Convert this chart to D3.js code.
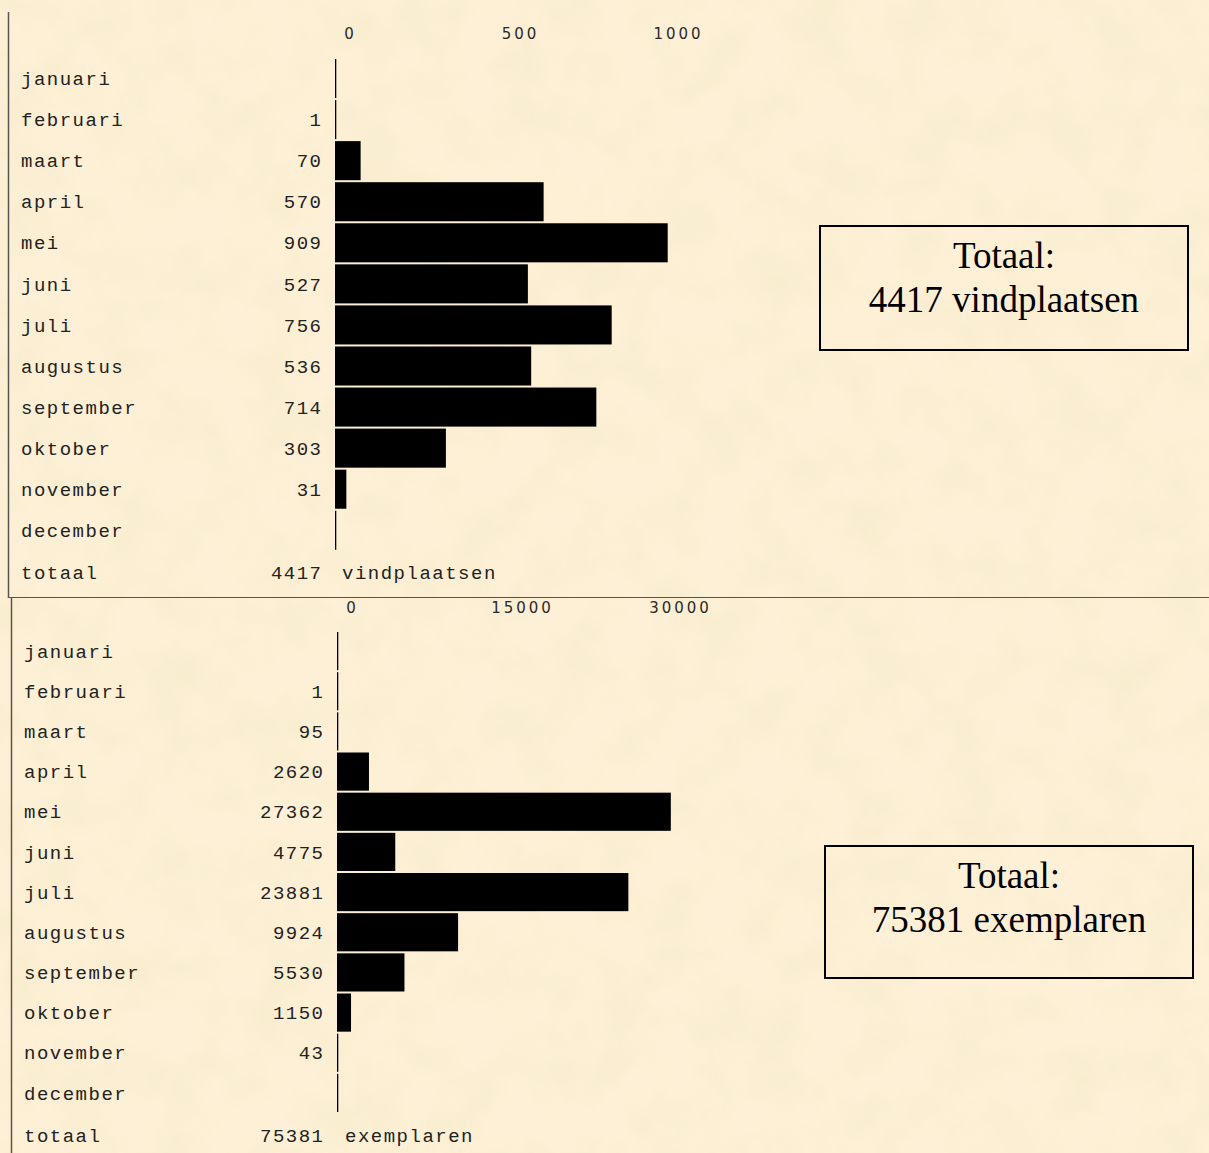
<!DOCTYPE html>
<html>
<head>
<meta charset="utf-8">
<script src="https://cdn.jsdelivr.net/npm/d3@7"></script>
<style>
  html, body { margin: 0; padding: 0; background: #fcefd3; overflow: hidden; }
  svg { display: block; }
</style>
</head>
<body>
<svg id="chart" width="1209" height="1153"></svg>
<script>
// data
var months = ["januari", "februari", "maart", "april", "mei", "juni", "juli",
  "augustus", "september", "oktober", "november", "december"]
var vindplaatsen = [0, 1, 70, 570, 909, 527, 756, 536, 714, 303, 31, 0]
var exemplaren = [0, 1, 95, 2620, 27362, 4775, 23881, 9924, 5530, 1150, 43, 0]
var ticksVind = [0, 500, 1000]
var ticksExem = [0, 15000, 30000]

var svg = d3.select("#chart")
var W = 1209, H = 1153

// parchment background
var defs = svg.append("defs")
var f = defs.append("filter").attr("id", "paper")
  .attr("x", 0).attr("y", 0).attr("width", "100%").attr("height", "100%")
f.append("feTurbulence").attr("type", "fractalNoise")
  .attr("baseFrequency", "0.02").attr("numOctaves", 4).attr("seed", 7)
f.append("feColorMatrix").attr("type", "matrix")
  .attr("values", "0 0 0 0 0.93  0 0 0 0 0.83  0 0 0 0 0.6  1.3 0 0 0 -0.46")
f.append("feComposite").attr("in2", "SourceGraphic").attr("operator", "in")

svg.append("rect").attr("width", W).attr("height", H).attr("fill", "#fdf0d6")
svg.append("rect").attr("width", W).attr("height", H).attr("fill", "#fff").attr("filter", "url(#paper)")

// frame lines
var frame = svg.append("g").attr("stroke", "#555").attr("fill", "none")
frame.append("line").attr("x1", 8.5).attr("x2", 8.5).attr("y1", 12).attr("y2", 598).attr("stroke-width", 1.5)
frame.append("line").attr("x1", 9).attr("x2", W).attr("y1", 597.5).attr("y2", 597.5)
frame.append("line").attr("x1", 11.5).attr("x2", 11.5).attr("y1", 598).attr("y2", H).attr("stroke-width", 1.5)

var monoLS = 1.5

function panel(cfg) {
  var g = svg.append("g")
  var values = cfg.values
  var total = d3.sum(values)

  var x = d3.scaleLinear()
    .domain([0, d3.max(cfg.ticks)])
    .range([cfg.x0, cfg.x0 + 366])

  var y = d3.scaleBand()
    .domain(months)
    .range([cfg.top, cfg.top + months.length * cfg.step])
    .paddingInner(cfg.gap / cfg.step)
    .paddingOuter(0)

  // tick labels sit in table cells, not exactly on the scale
  var tx = d3.scalePoint()
    .domain(cfg.ticks)
    .range([cfg.x0 + 14, cfg.x0 + 342])

  g.selectAll(".tick")
    .data(cfg.ticks)
    .enter().append("text")
      .attr("class", "tick")
      .attr("x", (d, i) => tx(d) + 1.5 + (i == 1 ? 6 : 0))
      .attr("y", cfg.tickY)
      .attr("dy", "0.35em")
      .attr("text-anchor", "middle")
      .style("font-family", "DejaVu Sans")
      .style("font-size", "15px")
      .style("letter-spacing", "3px")
      .style("fill", "#2a2a2a")
      .text(d => d)

  var row = g.selectAll(".row")
    .data(months)
    .enter().append("g")
      .attr("class", "row")

  row.append("rect")
    .attr("x", x(0))
    .attr("y", d => y(d))
    .attr("height", y.bandwidth())
    .attr("width", (d, i) => Math.max(1.3, x(values[i]) - x(0)))
    .attr("fill", "#000")

  row.append("text")
    .attr("x", cfg.labelX)
    .attr("y", d => y(d) + y.bandwidth() / 2)
    .attr("dy", "0.35em")
    .attr("class", "mono")
    .text(d => d)

  row.append("text")
    .attr("x", cfg.valueX + monoLS)
    .attr("y", d => y(d) + y.bandwidth() / 2)
    .attr("dy", "0.35em")
    .attr("text-anchor", "end")
    .attr("class", "mono")
    .text((d, i) => values[i] ? values[i] : "")

  // totaal row
  var ty = cfg.top + months.length * cfg.step + cfg.totalOff
  g.append("text").attr("class", "mono").attr("x", cfg.labelX).attr("y", ty).attr("dy", "0.35em").text("totaal")
  g.append("text").attr("class", "mono").attr("x", cfg.valueX + monoLS).attr("y", ty).attr("dy", "0.35em")
    .attr("text-anchor", "end").text(total)
  g.append("text").attr("class", "mono").attr("x", cfg.x0 + cfg.unitOff).attr("y", ty).attr("dy", "0.35em").text(cfg.unit)

  // summary box
  var b = cfg.box
  g.append("rect")
    .attr("x", b.x).attr("y", b.y).attr("width", b.w).attr("height", b.h)
    .attr("fill", "none").attr("stroke", "#000").attr("stroke-width", 2)
  var lines = ["Totaal:", total + " " + cfg.unit]
  g.selectAll(".boxtxt")
    .data(lines)
    .enter().append("text")
      .attr("class", "boxtxt")
      .attr("x", b.x + b.w / 2)
      .attr("y", (d, i) => b.base + i * 44)
      .attr("text-anchor", "middle")
      .style("font-family", "Liberation Serif")
      .style("font-size", "37px")
      .style("fill", "#000")
      .text(d => d)
}

panel({
  values: vindplaatsen, ticks: ticksVind, unit: "vindplaatsen",
  x0: 335, top: 59, step: 40.9, gap: 2, tickY: 34,
  labelX: 21, valueX: 321, totalOff: 23, unitOff: 7,
  box: {x: 820, y: 226, w: 368, h: 124, base: 268}
})

panel({
  values: exemplaren, ticks: ticksExem, unit: "exemplaren",
  x0: 337, top: 632, step: 40, gap: 2, tickY: 608,
  labelX: 24, valueX: 323, totalOff: 23, unitOff: 8,
  box: {x: 825, y: 846, w: 368, h: 132, base: 888}
})

svg.selectAll(".mono")
  .style("font-family", "Liberation Mono")
  .style("font-size", "19px")
  .style("letter-spacing", monoLS + "px")
  .style("fill", "#222")
</script>
</body>
</html>
